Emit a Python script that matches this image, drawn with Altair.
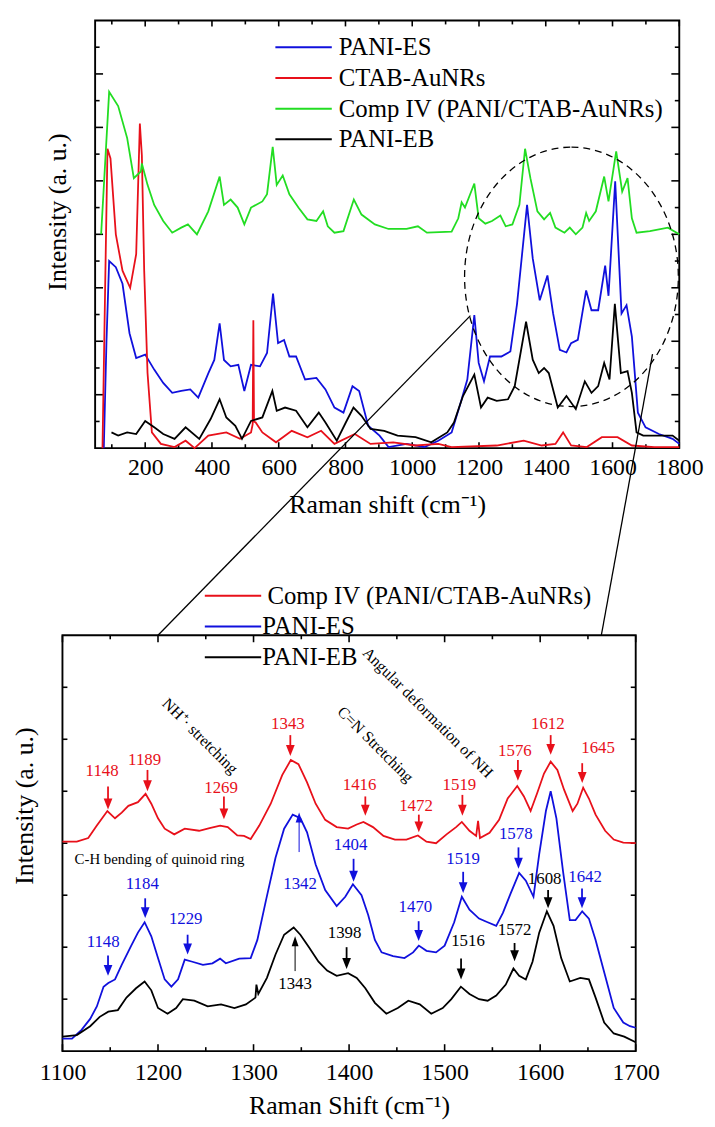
import altair as alt
import pandas as pd

FONT = "Liberation Serif"
RED = "#e8101a"
BLUE = "#1010dd"
GREEN = "#22dd22"
BLACK = "#000000"

# ---------------- top panel data ----------------
TOP_NAMES = ["PANI-ES", "CTAB-AuNRs", "Comp IV (PANI/CTAB-AuNRs)", "PANI-EB"]
TOP_COLORS = [BLUE, RED, GREEN, BLACK]

top_comp_x = [68, 92, 119, 146, 166, 187, 190, 207, 227, 254, 281, 308, 328, 355, 389, 423, 436, 456, 477, 497,
              517, 551, 565, 582, 594, 612, 632, 659, 686, 713, 733, 747, 767, 794, 825, 848, 888, 929, 983, 1017,
              1044, 1118, 1138, 1148, 1158, 1186, 1199, 1219, 1239, 1264, 1280, 1300, 1321, 1338, 1354, 1375, 1395,
              1413, 1429, 1456, 1472, 1490, 1510, 1521, 1530, 1550, 1575, 1588, 1611, 1629, 1645, 1658, 1672, 1712,
              1766, 1800]
top_comp_y = [8.0, 13.33, 12.8, 11.6, 10.1, 10.35, 10.65, 9.85, 9.1, 8.5, 8.06, 8.25, 8.37, 8.0, 8.86, 10.16, 9.1,
              9.3, 9.0, 8.37, 9.0, 9.23, 9.5, 11.27, 9.85, 10.2, 9.5, 9.0, 8.56, 8.5, 8.86, 8.3, 8.06, 8.12, 9.3,
              8.74, 8.37, 8.2, 8.2, 8.3, 8.06, 8.1, 8.6, 9.2, 9.0, 9.9, 8.6, 8.4, 8.5, 8.7, 8.3, 8.37, 9.1, 11.2,
              10.1, 8.86, 8.56, 8.8, 8.25, 8.06, 8.25, 8.0, 8.25, 8.8, 8.5, 8.86, 10.16, 9.23, 11.1, 9.6, 10.1, 8.6,
              8.06, 8.12, 8.25, 8.0]

top_es_x = [76, 84, 92, 112, 132, 153, 173, 200, 227, 254, 281, 308, 335, 359, 389, 407, 423, 436, 456, 479,
            497, 517, 544, 565, 583, 598, 616, 632, 652, 679, 713, 740, 767, 794, 821, 841, 868, 902, 929, 983,
            1037, 1078, 1118, 1145, 1165, 1186, 1199, 1215, 1233, 1267, 1294, 1314, 1344, 1361, 1382, 1405, 1422,
            1442, 1462, 1476, 1496, 1521, 1537, 1557, 1578, 1588, 1608, 1627, 1642, 1658, 1676, 1699, 1739, 1780,
            1800]
top_es_y = [0, 4.0, 7.0, 6.77, 6.15, 4.3, 3.37, 3.5, 2.94, 2.44, 2.07, 2.14, 2.2, 1.89, 2.8, 3.3, 4.67, 3.3, 3.06,
            3.12, 2.14, 3.12, 3.06, 3.56, 5.78, 3.93, 4.05, 3.43, 3.43, 2.57, 2.63, 2.2, 1.52, 1.33, 2.32, 2.14,
            0.84, 0.47, 0.04, 0.16, 0.04, 0.28, 0.59, 1.7, 2.57, 4.98, 3.19, 2.5, 3.43, 3.43, 3.62, 5.4, 9.1, 7.1,
            5.53, 6.46, 5.04, 3.68, 3.58, 3.93, 4.05, 5.9, 5.16, 5.16, 6.83, 5.7, 9.98, 5.04, 5.35, 4.17, 1.33,
            0.78, 0.53, 0.35, 0.16]

top_eb_x = [99, 119, 146, 173, 200, 227, 254, 288, 321, 362, 396, 423, 443, 470, 490, 517, 551, 581, 594, 619,
            652, 686, 720, 740, 774, 801, 824, 848, 875, 916, 956, 1010, 1057, 1105, 1125, 1152, 1186, 1206, 1226,
            1253, 1287, 1307, 1341, 1361, 1379, 1395, 1409, 1436, 1462, 1490, 1517, 1537, 1557, 1575, 1591, 1607,
            1625, 1645, 1658, 1672, 1692, 1739, 1780, 1800]
top_eb_y = [0.59, 0.47, 0.59, 0.53, 1.02, 0.78, 0.53, 0.35, 0.78, 0.35, 1.09, 1.83, 1.15, 0.84, 0.35, 1.02, 1.15,
            2.14, 1.4, 1.52, 1.4, 0.78, 1.33, 0.96, 0.28, 0.96, 1.52, 1.21, 0.72, 0.65, 0.47, 0.41, 0.22, 0.59,
            0.96, 1.95, 2.75, 1.52, 1.89, 1.77, 1.83, 2.32, 4.73, 3.31, 2.81, 3.0, 2.81, 1.52, 1.95, 1.46, 2.5,
            2.07, 2.32, 3.19, 2.57, 5.4, 2.81, 2.88, 2.07, 0.59, 0.47, 0.47, 0.47, 0.28]

top_ctab_x = [72, 80, 87, 96, 112, 132, 155, 173, 184, 190, 197, 207, 220, 247, 288, 321, 348, 389, 443, 484,
              517, 522, 524, 526, 531, 551, 592, 639, 686, 727, 767, 828, 875, 943, 1010, 1078, 1118, 1253, 1334,
              1388, 1429, 1452, 1476, 1523, 1568, 1615, 1658, 1725, 1800]
top_ctab_y = [0, 6.0, 11.2, 10.84, 8.0, 6.64, 6.0, 7.26, 12.14, 10.96, 6.64, 2.81, 0.59, 0.16, 0.04, 0.28, 0,
              0.47, 0.59, 0.35, 0.59, 0.9, 4.79, 1.0, 0.96, 0.59, 0.22, 0.65, 0.41, 0.65, 0.16, 0.53, 0.16, 0.22,
              0.1, 0.16, 0.04, 0.1, 0.28, 0.1, 0.16, 0.59, 0.1, 0.04, 0.41, 0.41, 0.1, 0.04, 0.04]

TOP_XLABELS = [200, 400, 600, 800, 1000, 1200, 1400, 1600, 1800]
TOP_XMINOR = [100, 300, 500, 700, 900, 1100, 1300, 1500, 1700]
TOP_YMAJOR = [2, 4, 6, 8, 10, 12, 14]
TOP_YMINOR = [1, 3, 5, 7, 9, 11, 13, 15]

# legend placement (top data coordinates)
top_leg_y = [15.0, 13.85, 12.7, 11.56]
top_leg_x1, top_leg_x2, top_leg_tx = 590, 759, 780

# dashed zoom ellipse (centre, top data coordinates)
ell_cx, ell_cy = 1477, 6.41

# ---------------- lower panel data ----------------
LOW_NAMES = ["Comp IV (PANI/CTAB-AuNRs)", "PANI-ES", "PANI-EB"]
LOW_COLORS = [RED, BLUE, BLACK]

low_comp_x = [1100, 1115, 1127, 1136, 1147, 1155, 1162, 1169, 1179, 1187, 1193, 1200, 1207, 1217, 1228, 1243,
              1254, 1265, 1273, 1283, 1290, 1297, 1306, 1318, 1330, 1339, 1347, 1356, 1365, 1375, 1387, 1399,
              1408, 1415, 1425, 1436, 1448, 1460, 1472, 1481, 1491, 1502, 1512, 1518, 1526, 1533, 1535, 1537,
              1547, 1557, 1566, 1576, 1583, 1590, 1597, 1604, 1611, 1618, 1625, 1634, 1639, 1645, 1651, 1658,
              1668, 1677, 1687, 1700]
low_comp_y = [4.03, 4.03, 4.1, 4.34, 4.62, 4.48, 4.59, 4.72, 4.79, 4.95, 4.76, 4.48, 4.28, 4.17, 4.28, 4.24,
              4.29, 4.34, 4.31, 4.15, 4.14, 4.08, 4.34, 4.76, 5.31, 5.6, 5.52, 5.17, 4.76, 4.45, 4.31, 4.28, 4.36,
              4.41, 4.31, 4.14, 4.07, 4.07, 4.15, 4.03, 4.0, 4.17, 4.31, 4.41, 4.24, 4.14, 4.43, 4.1, 4.2, 4.45,
              4.86, 5.1, 4.9, 4.62, 4.97, 5.34, 5.57, 5.41, 5.03, 4.62, 4.76, 5.07, 4.86, 4.55, 4.24, 4.07, 4.01,
              4.0]

low_es_x = [1100, 1110, 1120, 1129, 1136, 1143, 1148, 1155, 1162, 1172, 1179, 1186, 1193, 1200, 1207, 1214, 1221,
            1228, 1236, 1247, 1257, 1265, 1271, 1285, 1297, 1304, 1313, 1323, 1332, 1341, 1349, 1356, 1365, 1375,
            1387, 1396, 1404, 1413, 1420, 1427, 1434, 1446, 1458, 1467, 1473, 1481, 1491, 1500, 1510, 1518, 1526,
            1536, 1545, 1554, 1561, 1569, 1578, 1585, 1593, 1599, 1606, 1611, 1617, 1624, 1631, 1637, 1644, 1651,
            1658, 1668, 1677, 1687, 1694, 1700]
low_es_y = [0.24, 0.24, 0.41, 0.62, 0.86, 1.24, 1.31, 1.38, 1.66, 2.03, 2.28, 2.48, 2.21, 1.79, 1.38, 1.24, 1.38,
            1.76, 1.72, 1.66, 1.69, 1.78, 1.69, 1.78, 1.79, 2.14, 2.9, 3.72, 4.28, 4.55, 4.48, 4.21, 3.59, 3.1,
            2.79, 2.97, 3.21, 3.0, 2.62, 2.14, 1.9, 1.83, 1.79, 1.9, 2.03, 1.93, 1.9, 2.03, 2.48, 2.97, 2.72, 2.55,
            2.48, 2.41, 2.66, 3.03, 3.43, 3.28, 2.97, 3.79, 4.62, 5.0, 4.48, 3.45, 2.52, 2.52, 2.69, 2.55, 2.14,
            1.45, 0.83, 0.55, 0.48, 0.45]

low_eb_x = [1100, 1115, 1129, 1139, 1148, 1158, 1167, 1177, 1186, 1193, 1200, 1210, 1219, 1226, 1238, 1252, 1266,
            1280, 1292, 1302, 1303, 1305, 1314, 1323, 1332, 1342, 1349, 1358, 1368, 1377, 1387, 1399, 1408, 1417,
            1427, 1439, 1451, 1462, 1474, 1486, 1498, 1507, 1517, 1526, 1536, 1545, 1554, 1564, 1572, 1578, 1585,
            1592, 1599, 1607, 1614, 1622, 1631, 1642, 1651, 1658, 1667, 1677, 1688, 1700]
low_eb_y = [0.28, 0.31, 0.48, 0.66, 0.76, 0.79, 1.03, 1.21, 1.34, 1.17, 0.83, 0.72, 0.83, 1.0, 0.97, 0.86, 0.9,
            0.83, 0.9, 1.03, 1.28, 1.1, 1.41, 1.86, 2.24, 2.38, 2.24, 2.0, 1.72, 1.55, 1.45, 1.5, 1.41, 1.21, 0.93,
            0.72, 0.83, 0.97, 0.9, 0.72, 0.83, 1.0, 1.24, 1.1, 1.0, 0.97, 1.07, 1.28, 1.59, 1.45, 1.38, 1.72, 2.28,
            2.69, 2.41, 1.79, 1.34, 1.41, 1.38, 1.03, 0.55, 0.34, 0.28, 0.17]

LOW_XLABELS = [1100, 1200, 1300, 1400, 1500, 1600, 1700]
LOW_XMINOR = [1150, 1250, 1350, 1450, 1550, 1650]
LOW_YTICKS = [1, 2, 3, 4, 5, 6, 7]

# peak labels
red_lab_t = ["1148", "1189", "1269", "1343", "1416", "1472", "1519", "1576", "1612", "1645"]
red_lab_x = [1141.5, 1186, 1266, 1336, 1411, 1470, 1515.5, 1573.6, 1608, 1660.6]
red_lab_y = [5.39, 5.6, 5.07, 6.29, 5.12, 4.72, 5.12, 5.77, 6.3, 5.83]
red_arr_x = [1147.7, 1189, 1269, 1338.5, 1417, 1473, 1518.6, 1576.7, 1611, 1644]
red_arr_top = [5.09, 5.41, 4.9, 6.08, 4.9, 4.55, 4.93, 5.6, 6.08, 5.54]
red_arr_tip = [4.65, 5.0, 4.46, 5.68, 4.53, 4.21, 4.53, 5.2, 5.7, 5.16]

blue_lab_t = ["1148", "1184", "1229", "1342", "1404", "1470", "1519", "1578", "1642"]
blue_lab_x = [1142.6, 1183.6, 1229, 1348.7, 1401.6, 1469.4, 1519.4, 1574.4, 1647]
blue_lab_y = [2.1, 3.22, 2.54, 3.21, 3.97, 2.78, 3.7, 4.18, 3.35]
blue_arr_x = [1147.7, 1186.6, 1231, 1404.7, 1472.8, 1519.4, 1577.3, 1643.8]
blue_arr_top = [1.84, 2.94, 2.24, 3.7, 2.5, 3.45, 3.92, 3.13]
blue_arr_tip = [1.45, 2.56, 1.86, 3.26, 2.12, 3.04, 3.51, 2.75]
blue_up_x, blue_up_base, blue_up_tip = 1347.7, 3.83, 4.59

black_lab_t = ["1343", "1398", "1516", "1572", "1608"]
black_lab_x = [1343.5, 1395.3, 1524.5, 1573.2, 1604.7]
black_lab_y = [1.29, 2.27, 2.11, 2.32, 3.32]
black_arr_x = [1397.4, 1517.2, 1573.2, 1608.3]
black_arr_top = [2.0, 1.78, 2.08, 3.1]
black_arr_tip = [1.58, 1.38, 1.73, 2.75]
black_up_x, black_up_base, black_up_tip = 1343.5, 1.54, 2.21

rot_text = ["NH\u207a\u00b7 stretching", "C=N Stretching", "Angular deformation of NH"]
rot_x = [1244, 1427.5, 1482.4]
rot_y = [6.06, 5.9, 6.51]
ch_text, ch_x, ch_y = "C-H bending of quinoid ring", 1201.6, 3.7

low_leg_y = [8.76, 8.17, 7.58]
low_leg_x1, low_leg_x2 = 1249, 1308
low_leg_tx = [1314.5, 1309, 1309]

# zoom connector lines (lower data coordinates)
conn_x1 = [1200, 1664]
conn_y1 = [8, 8]
conn_x2 = [1527, 1717.6]
conn_y2 = [14.15, 13.41]

# ---------------- geometry ----------------
TOP_W, TOP_H = 590, 432
TOP_XD, TOP_YD = [50, 1800], [0, 16]
LOW_W, LOW_H = 546, 420
LOW_SHIFT = 33
LOW_XD, LOW_YD = [1100, 1700], [0, 8]

tpx = TOP_W / (TOP_XD[1] - TOP_XD[0])
tpy = TOP_H / (TOP_YD[1] - TOP_YD[0])
lpx = (LOW_W + LOW_SHIFT) / (LOW_XD[1] - LOW_XD[0])
lpy = LOW_H / (LOW_YD[1] - LOW_YD[0])


def series(names, xs_list, ys_list):
    frames = []
    for n, xs, ys in zip(names, xs_list, ys_list):
        frames.append(pd.DataFrame({"x": xs, "y": ys, "s": n}))
    return pd.concat(frames, ignore_index=True)


def ticks(xd, yd, px, py, xmaj, xmin_, ymaj, ymin_, lx_maj, lx_min, ly_maj, ly_min):
    rows = []
    for vals, L in ((xmaj, lx_maj), (xmin_, lx_min)):
        for v in vals:
            rows.append((v, v, yd[0], yd[0] + L / py))
            rows.append((v, v, yd[1], yd[1] - L / py))
    for vals, L in ((ymaj, ly_maj), (ymin_, ly_min)):
        for v in vals:
            rows.append((xd[0], xd[0] + L / px, v, v))
            rows.append((xd[1], xd[1] - L / px, v, v))
    return pd.DataFrame(rows, columns=["x1", "x2", "y1", "y2"])


# ---------------- top chart ----------------
tx_scale = alt.Scale(domain=TOP_XD, nice=False, zero=False)
ty_scale = alt.Scale(domain=TOP_YD, nice=False, zero=False)
t_xaxis = alt.Axis(values=TOP_XLABELS, format="d", title="Raman shift (cm\u207b\u00b9)", ticks=False,
                   domain=False, grid=False, labelFont=FONT, labelFontSize=24, labelPadding=8,
                   labelFlush=False, labelAlign="center", labelOverlap=False, labelBound=False,
                   labelColor="black", titleFont=FONT,
                   titleFontSize=26, titleFontWeight="normal", titleColor="black", titleX=TOP_W / 2,
                   titleY=57, titleBaseline="middle")
t_yaxis = alt.Axis(labels=False, ticks=False, domain=False, grid=False, title="Intensity (a. u.)",
                   titleFont=FONT, titleFontSize=26, titleFontWeight="normal", titleColor="black",
                   titleX=-38, titleY=193, titleBaseline="middle")


def TX(f):
    return alt.X(f, type="quantitative", scale=tx_scale, axis=t_xaxis)


def TY(f):
    return alt.Y(f, type="quantitative", scale=ty_scale, axis=t_yaxis)


t_color = alt.Color("s:N", scale=alt.Scale(domain=TOP_NAMES, range=TOP_COLORS), legend=None)

top_df = series(TOP_NAMES, [top_es_x, top_ctab_x, top_comp_x, top_eb_x],
                [top_es_y, top_ctab_y, top_comp_y, top_eb_y])
top_frame = pd.DataFrame({"x1": [TOP_XD[0]], "x2": [TOP_XD[1]], "y1": [TOP_YD[0]], "y2": [TOP_YD[1]]})
top_ticks = ticks(TOP_XD, TOP_YD, tpx, tpy, TOP_XLABELS, TOP_XMINOR, TOP_YMAJOR, TOP_YMINOR, 6, 4, 8, 4.5)
top_leg = pd.DataFrame({"s": TOP_NAMES, "y": top_leg_y, "x1": top_leg_x1, "x2": top_leg_x2, "tx": top_leg_tx})
ell_df = pd.DataFrame({"x": [ell_cx], "y": [ell_cy]})

a = 0.824
k = 0.5523 * a
ELL_PATH = (f"M0,-1C{k},-1 {a},-0.5523 {a},0C{a},0.5523 {k},1 0,1"
            f"C{-k},1 {-a},0.5523 {-a},0C{-a},-0.5523 {-k},-1 0,-1Z")

top_layers = [
    alt.Chart(top_frame).mark_rect(fillOpacity=0, stroke="black", strokeWidth=1.9).encode(
        x=TX("x1"), x2="x2", y=TY("y1"), y2="y2"),
    alt.Chart(top_ticks).mark_rule(color="black", strokeWidth=1.6).encode(
        x=TX("x1"), x2="x2", y=TY("y1"), y2="y2"),
    alt.Chart(top_df).mark_line(strokeWidth=1.8).encode(x=TX("x"), y=TY("y"), color=t_color),
    alt.Chart(top_leg).mark_rule(strokeWidth=2).encode(x=TX("x1"), x2="x2", y=TY("y"), color=t_color),
    alt.Chart(top_leg).mark_text(align="left", baseline="middle", font=FONT, fontSize=25, color="black").encode(
        x=TX("tx"), y=TY("y"), text="s:N"),
    alt.Chart(ell_df).mark_point(shape=ELL_PATH, size=(2 * 131) ** 2, filled=False, color="black",
                                 strokeWidth=1.3, strokeDash=[7, 5], opacity=1).encode(x=TX("x"), y=TY("y")),
]
top_chart = alt.layer(*top_layers).properties(width=TOP_W, height=TOP_H)

# ---------------- lower chart ----------------
lx_scale = alt.Scale(domain=LOW_XD, range=[-LOW_SHIFT, LOW_W], nice=False, zero=False)
ly_scale = alt.Scale(domain=LOW_YD, nice=False, zero=False)
l_xaxis = alt.Axis(values=LOW_XLABELS, format="d", title="Raman Shift (cm\u207b\u00b9)", ticks=False,
                   domain=False, grid=False, labelFont=FONT, labelFontSize=24, labelPadding=10,
                   labelFlush=False, labelAlign="center", labelOverlap=False, labelBound=False,
                   labelColor="black", titleFont=FONT,
                   titleFontSize=26, titleFontWeight="normal", titleColor="black",
                   titleX=(LOW_W - LOW_SHIFT) / 2, titleY=55, titleBaseline="middle")
l_yaxis = alt.Axis(labels=False, ticks=False, domain=False, grid=False, title="Intensity (a. u.)",
                   titleFont=FONT, titleFontSize=26, titleFontWeight="normal", titleColor="black",
                   titleX=-71, titleY=172, titleBaseline="middle")


def LX(f):
    return alt.X(f, type="quantitative", scale=lx_scale, axis=l_xaxis)


def LY(f):
    return alt.Y(f, type="quantitative", scale=ly_scale, axis=l_yaxis)


l_color = alt.Color("s:N", scale=alt.Scale(domain=LOW_NAMES, range=LOW_COLORS), legend=None)

low_df = series(LOW_NAMES, [low_comp_x, low_es_x, low_eb_x], [low_comp_y, low_es_y, low_eb_y])
low_frame = pd.DataFrame({"x1": [LOW_XD[0]], "x2": [LOW_XD[1]], "y1": [LOW_YD[0]], "y2": [LOW_YD[1]]})
low_ticks = ticks(LOW_XD, LOW_YD, lpx, lpy, LOW_XLABELS, LOW_XMINOR, LOW_YTICKS, [], 7, 4, 5, 5)

lab_df = pd.concat([
    pd.DataFrame({"t": red_lab_t, "x": red_lab_x, "y": red_lab_y, "s": LOW_NAMES[0]}),
    pd.DataFrame({"t": blue_lab_t, "x": blue_lab_x, "y": blue_lab_y, "s": LOW_NAMES[1]}),
    pd.DataFrame({"t": black_lab_t, "x": black_lab_x, "y": black_lab_y, "s": LOW_NAMES[2]}),
], ignore_index=True)

HEAD = 11 / lpy  # arrow head height in data units
down_df = pd.concat([
    pd.DataFrame({"x": red_arr_x, "top": red_arr_top, "tip": red_arr_tip, "s": LOW_NAMES[0]}),
    pd.DataFrame({"x": blue_arr_x, "top": blue_arr_top, "tip": blue_arr_tip, "s": LOW_NAMES[1]}),
    pd.DataFrame({"x": black_arr_x, "top": black_arr_top, "tip": black_arr_tip, "s": LOW_NAMES[2]}),
], ignore_index=True)
down_df["end"] = down_df["tip"] + HEAD * 0.6
up_df = pd.DataFrame({"x": [blue_up_x, black_up_x], "top": [blue_up_base, black_up_base],
                      "tip": [blue_up_tip, black_up_tip], "s": [LOW_NAMES[1], LOW_NAMES[2]]})
up_df["end"] = up_df["tip"] - HEAD * 0.6

rot_df = pd.DataFrame({"t": rot_text, "x": rot_x, "y": rot_y})
ch_df = pd.DataFrame({"t": [ch_text], "x": [ch_x], "y": [ch_y]})
low_leg = pd.DataFrame({"s": LOW_NAMES, "y": low_leg_y, "x1": low_leg_x1, "x2": low_leg_x2, "tx": low_leg_tx})
conn_df = pd.DataFrame({"x1": conn_x1, "y1": conn_y1, "x2": conn_x2, "y2": conn_y2})

DOWN_PATH = "M-0.8,-2L0.8,-2L0,0Z"
UP_PATH = "M-0.7,2L0.7,2L0,0Z"

low_layers = [
    alt.Chart(low_frame).mark_rect(fillOpacity=0, stroke="black", strokeWidth=1.9).encode(
        x=LX("x1"), x2="x2", y=LY("y1"), y2="y2"),
    alt.Chart(low_ticks).mark_rule(color="black", strokeWidth=1.6).encode(
        x=LX("x1"), x2="x2", y=LY("y1"), y2="y2"),
    alt.Chart(low_df).mark_line(strokeWidth=1.8).encode(x=LX("x"), y=LY("y"), color=l_color),
    alt.Chart(down_df).mark_rule(strokeWidth=1.8).encode(x=LX("x"), y=LY("top"), y2="end", color=l_color),
    alt.Chart(down_df).mark_point(shape=DOWN_PATH, size=121, filled=True, opacity=1).encode(
        x=LX("x"), y=LY("tip"), color=l_color),
    alt.Chart(up_df).mark_rule(strokeWidth=1.0).encode(x=LX("x"), y=LY("top"), y2="end", color=l_color),
    alt.Chart(up_df).mark_point(shape=UP_PATH, size=100, filled=True, opacity=1).encode(
        x=LX("x"), y=LY("tip"), color=l_color),
    alt.Chart(lab_df).mark_text(font=FONT, fontSize=17, align="center", baseline="middle").encode(
        x=LX("x"), y=LY("y"), text="t:N", color=l_color),
    alt.Chart(rot_df).mark_text(font=FONT, fontSize=16, align="center", baseline="middle", angle=45,
                                color="black").encode(x=LX("x"), y=LY("y"), text="t:N"),
    alt.Chart(ch_df).mark_text(font=FONT, fontSize=15, align="center", baseline="middle",
                               color="black").encode(x=LX("x"), y=LY("y"), text="t:N"),
    alt.Chart(low_leg).mark_rule(strokeWidth=2).encode(x=LX("x1"), x2="x2", y=LY("y"), color=l_color),
    alt.Chart(low_leg).mark_text(align="left", baseline="middle", font=FONT, fontSize=25, color="black").encode(
        x=LX("tx"), y=LY("y"), text="s:N"),
    alt.Chart(conn_df).mark_rule(color="black", strokeWidth=1.3).encode(
        x=LX("x1"), x2="x2", y=LY("y1"), y2="y2"),
]
low_chart = alt.layer(*low_layers).properties(width=LOW_W, height=LOW_H)

chart = alt.vconcat(top_chart, low_chart, spacing=189, bounds="flush").resolve_scale(
    x="independent", y="independent", color="independent"
).properties(
    padding={"left": 4, "top": 6, "right": 4, "bottom": 0}
).configure(font=FONT).configure_view(strokeWidth=0)

chart.save("out.html", embed_options={"renderer": "svg", "actions": False})
